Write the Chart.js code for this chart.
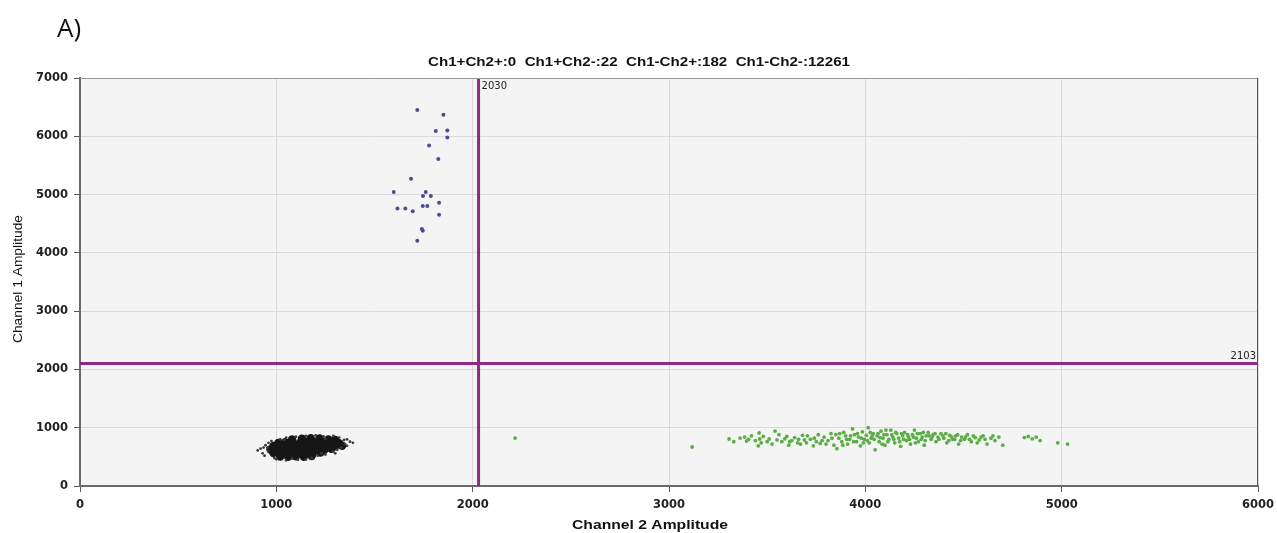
<!DOCTYPE html>
<html>
<head>
<meta charset="utf-8">
<script src="https://cdn.jsdelivr.net/npm/chart.js@4/dist/chart.umd.min.js"></script>
<style>
html,body{margin:0;padding:0;background:#fff;}
canvas{display:block;}
</style>
</head>
<body>
<canvas id="c" width="1277" height="533"></canvas>
<script>
// ---- data ----
const panelLabel = "A)";
const titleText = "Ch1+Ch2+:0  Ch1+Ch2-:22  Ch1-Ch2+:182  Ch1-Ch2-:12261";
const xAxisTitle = "Channel 2 Amplitude";
const yAxisTitle = "Channel 1 Amplitude";
const xTicks = [0, 1000, 2000, 3000, 4000, 5000, 6000];
const yTicks = [0, 1000, 2000, 3000, 4000, 5000, 6000, 7000];
const ch2Threshold = 2030;
const ch1Threshold = 2103;

// Ch1+Ch2- droplets (blue)
const bluePts = [
 [1718,6449],[1851,6369],[1812,6089],[1871,6101],[1871,5981],[1778,5844],[1825,5609],
 [1686,5271],[1598,5043],[1761,5043],[1747,4974],[1787,4974],[1829,4860],[1746,4803],
 [1769,4803],[1617,4763],[1657,4763],[1695,4712],[1829,4654],[1741,4408],[1746,4379],[1718,4208]
];

// Ch1-Ch2+ droplets (green)
const greenPts = [
 [2216,823],[3118,669],
 [3306,806],[3362,823],[3385,840],[3395,770],[3405,800],[3459,909],[3462,806],[3470,740],
 [3455,690],[3510,806],[3525,720],[3540,943],[3560,880],[3575,760],[3590,810],[3610,700],
 [3625,780],[3640,830],[3655,740],[3670,720],[3690,790],[3705,860],[3720,800],[3735,690],
 [3750,760],[3770,730],[3790,840],[3810,780],[3825,900],[3840,700],[3855,640],[3865,820],
 [3880,760],[3890,920],[3900,860],[3910,720],[3920,800],[3935,980],[3945,880],[3955,760],
 [3965,840],[3975,690],[3985,930],[3995,800],[4005,870],[4015,1000],[4020,740],[4030,820],
 [4040,900],[4050,620],[4060,860],[4070,760],[4080,940],[4090,820],[4100,700],[4110,880],
 [4120,800],[4130,960],[4140,840],[4150,740],[4160,900],[4170,820],[4180,680],[4190,860],
 [4200,920],[4210,780],[4220,840],[4230,720],[4240,880],[4250,960],[4260,820],[4270,760],
 [4280,900],[4290,840],[4300,700],[4310,860],[4320,920],[4335,800],[4345,880],[4360,760],
 [4370,840],[4385,900],[4400,820],[4415,740],[4430,870],[4445,800],[4460,860],[4475,720],
 [4490,840],[4505,800],[4520,880],[4540,760],[4560,830],[4580,790],[4600,860],[4620,720],
 [4640,820],[4660,780],[4680,840],[4700,700],
 [3330,760],[3420,860],[3440,780],[3480,850],[3500,760],[3550,790],[3600,850],[3615,760],
 [3660,800],[3680,870],[3700,740],[3740,820],[3760,880],[3780,780],[3800,720],[3830,820],
 [3850,880],[3870,900],[3885,700],[3905,800],[3925,860],[3940,760],[3960,900],[3980,820],
 [3990,740],[4010,780],[4025,920],[4035,860],[4045,800],[4065,900],[4075,830],[4085,720],
 [4095,880],[4105,960],[4115,760],[4135,880],[4145,800],[4155,920],[4175,760],[4185,900],
 [4195,800],[4215,880],[4225,800],[4245,840],[4255,740],[4265,900],[4285,800],[4295,920],
 [4305,780],[4325,860],[4340,840],[4355,900],[4375,800],[4395,860],[4410,900],[4425,780],
 [4440,840],[4455,800],[4470,880],[4485,780],[4510,840],[4530,800],[4550,860],[4570,740],
 [4590,840],[4610,800],[4650,860],
 [4810,830],[4830,850],[4850,810],[4870,840],[4890,780],[4980,740],[5030,720]
];

// Ch1-Ch2- droplets (black, dense core)
const blackCore = [
 [1080,800],[1130,810],[1175,820],[1220,815],[1265,800],[1300,790],
 [1010,740],[1045,750],[1085,745],[1125,755],[1160,760],[1200,750],[1240,755],[1280,745],[1320,735],
 [985,685],[1020,690],[1060,680],[1100,695],[1140,690],[1180,700],[1220,690],[1260,695],[1300,680],[1335,690],
 [970,625],[1005,620],[1045,630],[1085,620],[1125,635],[1165,625],[1205,630],[1245,620],[1280,640],
 [985,565],[1025,560],[1065,570],[1105,560],[1145,570],[1185,560],[1225,575],
 [1020,505],[1060,500],[1100,510],[1140,500],[1180,515]
];
const blackFringe = [
 [920,640],[930,560],[945,700],[940,520],[960,600],[955,660],[1000,460],[1050,440],
 [1110,450],[1150,455],[1210,520],[1250,540],[1290,590],[1310,620],[1350,720],[1375,760],
 [1345,790],[1320,830],[1290,860],[1240,850],[1200,870],[1150,860],[1100,845],[1050,830],
 [1020,800],[975,770],[1330,660],[1360,690],[990,480],[960,740],[905,610],[935,660],
 [1390,740],[1300,560],[1080,470],[1250,810],[1360,800],[1040,790],[1180,480],[1230,560]
];

const cv = document.getElementById('c');

function fitText(ctx, text, cx, cy, targetW) {
  const w = ctx.measureText(text).width;
  const sx = targetW / w;
  ctx.save();
  ctx.translate(cx, cy);
  ctx.scale(sx, 1);
  ctx.textAlign = 'center';
  ctx.fillText(text, 0, 0);
  ctx.restore();
}

const decor = {
  id: 'decor',
  beforeDraw(chart) {
    const {ctx, chartArea: a} = chart;
    ctx.save();
    ctx.fillStyle = '#f4f4f4';
    ctx.fillRect(a.left, a.top, a.right - a.left, a.bottom - a.top);
    ctx.restore();
  },
  afterDatasetsDraw(chart) {
    const {ctx, chartArea: a, scales} = chart;
    ctx.save();
    // frame
    ctx.strokeStyle = '#9a9a9a';
    ctx.lineWidth = 1;
    ctx.beginPath();
    ctx.moveTo(a.left, a.top + 0.5); ctx.lineTo(a.right, a.top + 0.5);
    ctx.stroke();
    ctx.strokeStyle = '#555';
    ctx.beginPath();
    ctx.moveTo(a.right - 0.5, a.top); ctx.lineTo(a.right - 0.5, a.bottom);
    ctx.stroke();
    // threshold labels
    ctx.fillStyle = '#222';
    ctx.font = '10px "DejaVu Sans", sans-serif';
    ctx.textBaseline = 'middle';
    ctx.textAlign = 'left';
    ctx.fillText(String(ch2Threshold), scales.x.getPixelForValue(ch2Threshold) + 3, a.top + 8);
    ctx.textAlign = 'right';
    ctx.fillText(String(ch1Threshold), a.right - 2, scales.y.getPixelForValue(ch1Threshold) - 7);
    // titles
    ctx.fillStyle = '#111';
    ctx.font = 'bold 13px "Liberation Sans", Arial, sans-serif';
    fitText(ctx, titleText, 639, 62, 422);
    ctx.font = 'bold 12px "Liberation Sans", Arial, sans-serif';
    fitText(ctx, xAxisTitle, 650, 526, 156);
    ctx.save();
    ctx.translate(18, 279);
    ctx.rotate(-Math.PI / 2);
    ctx.font = '13px "Liberation Sans", Arial, sans-serif';
    fitText(ctx, yAxisTitle, 0, 0, 128);
    ctx.restore();
    ctx.textAlign = 'left';
    ctx.textBaseline = 'alphabetic';
    ctx.font = '26px "Open Sans", "DejaVu Sans", sans-serif';
    ctx.fillText(panelLabel, 57, 37);
    ctx.restore();
  }
};

const toXY = arr => arr.map(p => ({x: p[0], y: p[1]}));
const tickFont = {family: '"DejaVu Sans", sans-serif', size: 11.5, weight: 'bold'};

new Chart(cv, {
  type: 'scatter',
  data: {
    datasets: [
      {data: toXY(blackFringe), backgroundColor: '#3a3a3a', borderWidth: 0, pointRadius: 1.4},
      {data: toXY(blackCore), backgroundColor: '#161616', borderWidth: 0, pointRadius: 4.2},
      {data: toXY(bluePts), backgroundColor: '#4b4c94', borderWidth: 0, pointRadius: 2},
      {data: toXY(greenPts), backgroundColor: '#5aae45', borderWidth: 0, pointRadius: 1.9},
      {type: 'line', data: [{x: ch2Threshold, y: 0}, {x: ch2Threshold, y: 7000}],
       borderColor: '#8e2a84', borderWidth: 3, pointRadius: 0, showLine: true},
      {type: 'line', data: [{x: 0, y: ch1Threshold}, {x: 6000, y: ch1Threshold}],
       borderColor: '#8e2a84', borderWidth: 3, pointRadius: 0, showLine: true}
    ]
  },
  options: {
    responsive: false,
    animation: false,
    events: [],
    layout: {padding: {top: 78, right: 19, left: 0, bottom: 0}},
    plugins: {legend: {display: false}, tooltip: {enabled: false}, title: {display: false}},
    scales: {
      x: {
        type: 'linear', min: 0, max: 6000,
        afterBuildTicks: s => { s.ticks = xTicks.map(v => ({value: v})); },
        afterFit: s => { s.height = 47; s.paddingLeft = 0; s.paddingRight = 0; },
        ticks: {color: '#222', font: tickFont, padding: 6, maxRotation: 0, callback: v => String(v)},
        grid: {color: '#dadada', tickColor: '#555', tickLength: 6},
        border: {color: '#6a6a6a', width: 2}
      },
      y: {
        type: 'linear', min: 0, max: 7000,
        afterBuildTicks: s => { s.ticks = yTicks.map(v => ({value: v})); },
        afterFit: s => { s.width = 80; s.paddingTop = 0; s.paddingBottom = 0; },
        ticks: {color: '#222', font: tickFont, padding: 6, callback: v => String(v)},
        grid: {color: '#dadada', tickColor: '#555', tickLength: 6},
        border: {color: '#6a6a6a', width: 2}
      }
    }
  },
  plugins: [decor]
});
</script>
</body>
</html>
